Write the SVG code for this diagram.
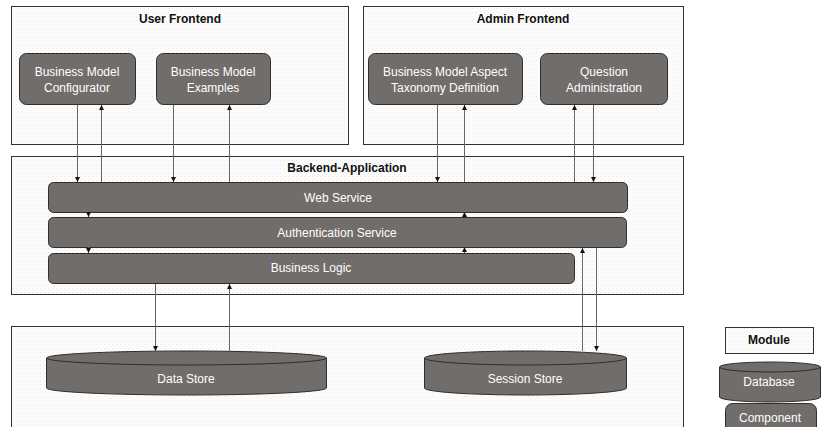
<svg xmlns="http://www.w3.org/2000/svg" width="824" height="427" viewBox="0 0 824 427">
  <defs>
    <!-- faint dotted texture used inside module frames -->
    <pattern id="dots" width="4" height="4" patternUnits="userSpaceOnUse">
      <rect width="4" height="4" fill="#fdfdfd"/>
      <rect x="0" y="0" width="1" height="1" fill="#e6e6e6"/>
      <rect x="2" y="2" width="1" height="1" fill="#ececec"/>
    </pattern>
    <marker id="arrow" markerUnits="userSpaceOnUse" markerWidth="5" markerHeight="5" refX="5" refY="2.5" orient="auto">
      <path d="M0,0 L5,2.5 L0,5 z" fill="#111"/>
    </marker>
    <style>
      .module { fill: url(#dots); stroke: #333; stroke-width: 1; }
      .comp { fill: #716d6b; stroke: #2e2e2e; stroke-width: 1; }
      .title { font-family: "Liberation Sans", Arial, sans-serif; font-size: 12px; font-weight: bold; fill: #111; text-anchor: middle; }
      .label { font-family: "Liberation Sans", Arial, sans-serif; font-size: 12px; fill: #fff; text-anchor: middle; }
      .conn line { stroke: #666; stroke-width: 1; marker-end: url(#arrow); }
    </style>
  </defs>

  <rect width="824" height="427" fill="#fff"/>

  <!-- module frames -->
  <g id="user-frontend">
    <rect class="module" x="11.5" y="6.5" width="337" height="138"/>
    <text class="title" x="180" y="23">User Frontend</text>
  </g>
  <g id="admin-frontend">
    <rect class="module" x="363.5" y="6.5" width="320" height="138"/>
    <text class="title" x="523" y="23">Admin Frontend</text>
  </g>
  <g id="backend-application">
    <rect class="module" x="11.5" y="156.5" width="672" height="138"/>
    <text class="title" x="347" y="172">Backend-Application</text>
  </g>
  <g id="storage">
    <rect class="module" x="11.5" y="326.5" width="672" height="110"/>
  </g>

  <!-- frontend components -->
  <g id="bm-configurator">
    <rect class="comp" x="19.5" y="53.5" width="116" height="51" rx="7"/>
    <text class="label" x="77" y="76">Business Model</text>
    <text class="label" x="77" y="92">Configurator</text>
  </g>
  <g id="bm-examples">
    <rect class="comp" x="156.5" y="53.5" width="114" height="51" rx="7"/>
    <text class="label" x="213" y="76">Business Model</text>
    <text class="label" x="213" y="92">Examples</text>
  </g>
  <g id="bm-aspect-taxonomy">
    <rect class="comp" x="368.5" y="53.5" width="154" height="51" rx="7"/>
    <text class="label" x="445" y="76">Business Model Aspect</text>
    <text class="label" x="445" y="92">Taxonomy Definition</text>
  </g>
  <g id="question-administration">
    <rect class="comp" x="540.5" y="53.5" width="127" height="51" rx="7"/>
    <text class="label" x="604" y="76">Question</text>
    <text class="label" x="604" y="92">Administration</text>
  </g>

  <!-- backend layers -->
  <g id="web-service">
    <rect class="comp" x="48.5" y="182.5" width="579" height="30" rx="5"/>
    <text class="label" x="338" y="202">Web Service</text>
  </g>
  <g id="authentication-service">
    <rect class="comp" x="48.5" y="217.5" width="578" height="30" rx="5"/>
    <text class="label" x="337" y="237">Authentication Service</text>
  </g>
  <g id="business-logic">
    <rect class="comp" x="48.5" y="253.5" width="526" height="30" rx="5"/>
    <text class="label" x="311" y="272">Business Logic</text>
  </g>

  <!-- stores -->
  <g id="data-store">
    <path class="comp" d="M46.5,358 L46.5,388 A140,7 0 0 0 326.5,388 L326.5,358"/>
    <ellipse class="comp" cx="186.5" cy="358" rx="140" ry="7"/>
    <text class="label" x="186" y="383">Data Store</text>
  </g>
  <g id="session-store">
    <path class="comp" d="M424.5,358 L424.5,388 A101,7 0 0 0 626.5,388 L626.5,358"/>
    <ellipse class="comp" cx="525.5" cy="358" rx="101" ry="7"/>
    <text class="label" x="525" y="383">Session Store</text>
  </g>

  <!-- legend -->
  <g id="legend-module">
    <rect class="module" x="725.5" y="327.5" width="88" height="26"/>
    <text class="title" x="769" y="344">Module</text>
  </g>
  <g id="legend-database">
    <path class="comp" d="M719.5,367 L719.5,397 A50.5,5 0 0 0 820.5,397 L820.5,367"/>
    <ellipse class="comp" cx="770" cy="367" rx="50.5" ry="5"/>
    <text class="label" x="769" y="386">Database</text>
  </g>
  <g id="legend-component">
    <rect class="comp" x="725.5" y="403.5" width="91" height="40" rx="7"/>
    <text class="label" x="770" y="422">Component</text>
  </g>

  <!-- connectors -->
  <g id="connectors" class="conn">
    <line x1="77.5" y1="105" x2="77.5" y2="182"/>
    <line x1="101.5" y1="182" x2="101.5" y2="105"/>
    <line x1="173.5" y1="105" x2="173.5" y2="182"/>
    <line x1="229.5" y1="182" x2="229.5" y2="105"/>
    <line x1="437.5" y1="105" x2="437.5" y2="182"/>
    <line x1="464.5" y1="182" x2="464.5" y2="105"/>
    <line x1="574.5" y1="182" x2="574.5" y2="105"/>
    <line x1="593.5" y1="105" x2="593.5" y2="182"/>

    <line x1="88.5" y1="212" x2="88.5" y2="217"/>
    <line x1="88.5" y1="247" x2="88.5" y2="253"/>
    <line x1="464.5" y1="217" x2="464.5" y2="212"/>
    <line x1="464.5" y1="253" x2="464.5" y2="247"/>

    <line x1="155.5" y1="284" x2="155.5" y2="351"/>
    <line x1="229.5" y1="351" x2="229.5" y2="284"/>
    <line x1="582.5" y1="351" x2="582.5" y2="248"/>
    <line x1="596.5" y1="248" x2="596.5" y2="351"/>
  </g>
</svg>
